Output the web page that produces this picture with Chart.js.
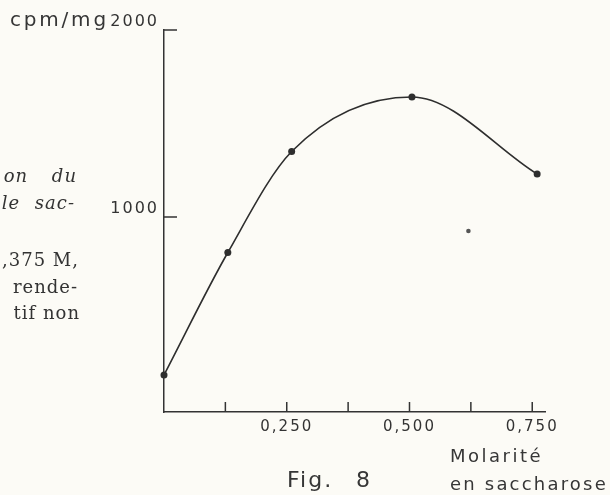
<!DOCTYPE html>
<html lang="fr">
<head>
<meta charset="UTF-8">
<title>Fig. 8 - Molarité en saccharose</title>
<script src="https://cdn.jsdelivr.net/npm/chart.js@4.4.0/dist/chart.umd.min.js"></script>
<style>
  body { margin: 0; background: #fcfbf6; }
  #wrap { position: relative; width: 610px; height: 495px; overflow: hidden; background: #fcfbf6; }
  #chart { position: absolute; left: 0; top: 0; }
  .note { position: absolute; white-space: nowrap; line-height: 1; color: #363636; font-family: "DejaVu Sans", sans-serif; }
  .book { position: absolute; white-space: nowrap; line-height: 1; color: #333; font-family: "DejaVu Serif", serif; font-size: 18px; letter-spacing: 1px; text-align: right; }
  .book.it { font-style: italic; word-spacing: 8px; }
</style>
</head>
<body>
<div id="wrap">
    <canvas id="chart" width="610" height="495"></canvas>

    <!-- morceaux du texte imprimé, coupés par le bord gauche -->
    <div class="book it" style="right:533px; top:167px; word-spacing:17px;">on du</div>
    <div class="book it" style="right:535px; top:194px;">le sac-</div>
    <div class="book" style="right:531px; top:251px;">0,375 M,</div>
    <div class="book" style="right:532px; top:278px;">rende-</div>
    <div class="book" style="right:530px; top:304px;">tif non</div>

    <div class="note" style="left:10px; top:9px; font-size:20px; letter-spacing:2.8px;">cpm/mg</div>
    <div class="note" style="left:450px; top:447px; font-size:18px; letter-spacing:2.5px;">Molarité</div>
    <div class="note" style="left:287px; top:469px; font-size:22px; letter-spacing:2px; word-spacing:14px;">Fig. 8</div>
    <div class="note" style="left:450px; top:475px; font-size:18px; letter-spacing:2.2px;">en saccharose</div>
</div>

<script>
    // valeurs
    const molarite = [0, 0.13, 0.26, 0.505, 0.76];
    const cpmParMg = [155, 810, 1350, 1642, 1230];
    const pointIsoleX = [0.62];
    const pointIsoleY = [925];

    const xTicks = [0.125, 0.25, 0.375, 0.5, 0.625, 0.75];
    const xLabels = [0.25, 0.5, 0.75];
    const yTicks = [1000, 2000];

    const courbe = molarite.map((m, i) => ({ x: m, y: cpmParMg[i] }));
    const isole = pointIsoleX.map((m, i) => ({ x: m, y: pointIsoleY[i] }));

    // petits tirets dirigés vers l'intérieur, comme sur le dessin
    const tirets = {
        id: "tirets",
        afterDraw(chart) {
            const { ctx, chartArea, scales } = chart;
            ctx.save();
            ctx.strokeStyle = "#333";
            ctx.lineWidth = 1.5;
            ctx.beginPath();
            xTicks.forEach(v => {
                const px = scales.x.getPixelForValue(v);
                ctx.moveTo(px, chartArea.bottom);
                ctx.lineTo(px, chartArea.bottom - 10);
            });
            yTicks.forEach(v => {
                const py = scales.y.getPixelForValue(v);
                ctx.moveTo(chartArea.left, py);
                ctx.lineTo(chartArea.left + 13, py);
            });
            ctx.stroke();
            ctx.restore();
        }
    };

    const espacement = {
        id: "espacement",
        beforeDraw(chart) { chart.ctx.letterSpacing = "2px"; }
    };

    const ctx = document.getElementById("chart").getContext("2d");
    new Chart(ctx, {
        type: "scatter",
        data: {
            datasets: [{
                data: courbe,
                showLine: true,
                cubicInterpolationMode: "monotone",
                borderColor: "#2e2e2e",
                borderWidth: 1.6,
                pointRadius: 3.5,
                pointBorderWidth: 0,
                pointBackgroundColor: "#2e2e2e",
                clip: false
            }, {
                data: isole,
                pointRadius: 2.3,
                pointBorderWidth: 0,
                pointBackgroundColor: "#555",
                clip: false
            }]
        },
        options: {
            responsive: false,
            devicePixelRatio: 1,
            animation: false,
            layout: { padding: { top: 30, right: 65, left: 0, bottom: 0 } },
            plugins: { legend: { display: false }, tooltip: { enabled: false } },
            scales: {
                x: {
                    type: "linear",
                    min: 0,
                    max: 0.776,
                    afterBuildTicks: s => { s.ticks = xTicks.map(v => ({ value: v })); },
                    afterFit: s => { s.height = 83; },
                    grid: { display: false, drawTicks: false },
                    border: { display: true, color: "#333", width: 1.5 },
                    ticks: {
                        padding: 6,
                        color: "#333",
                        font: { family: "DejaVu Sans", size: 15 },
                        maxRotation: 0,
                        autoSkip: false,
                        callback: v => xLabels.includes(v) ? v.toFixed(3).replace(".", ",") : ""
                    }
                },
                y: {
                    type: "linear",
                    min: -43,
                    max: 2000,
                    afterBuildTicks: s => { s.ticks = yTicks.map(v => ({ value: v })); },
                    afterFit: s => { s.width = 164; },
                    grid: { display: false, drawTicks: false },
                    border: { display: true, color: "#333", width: 1.5 },
                    ticks: {
                        padding: 5,
                        labelOffset: -8,
                        color: "#333",
                        font: { family: "DejaVu Sans", size: 16 },
                        callback: v => String(v)
                    }
                }
            }
        },
        plugins: [tirets, espacement]
    });
</script>
</body>
</html>
